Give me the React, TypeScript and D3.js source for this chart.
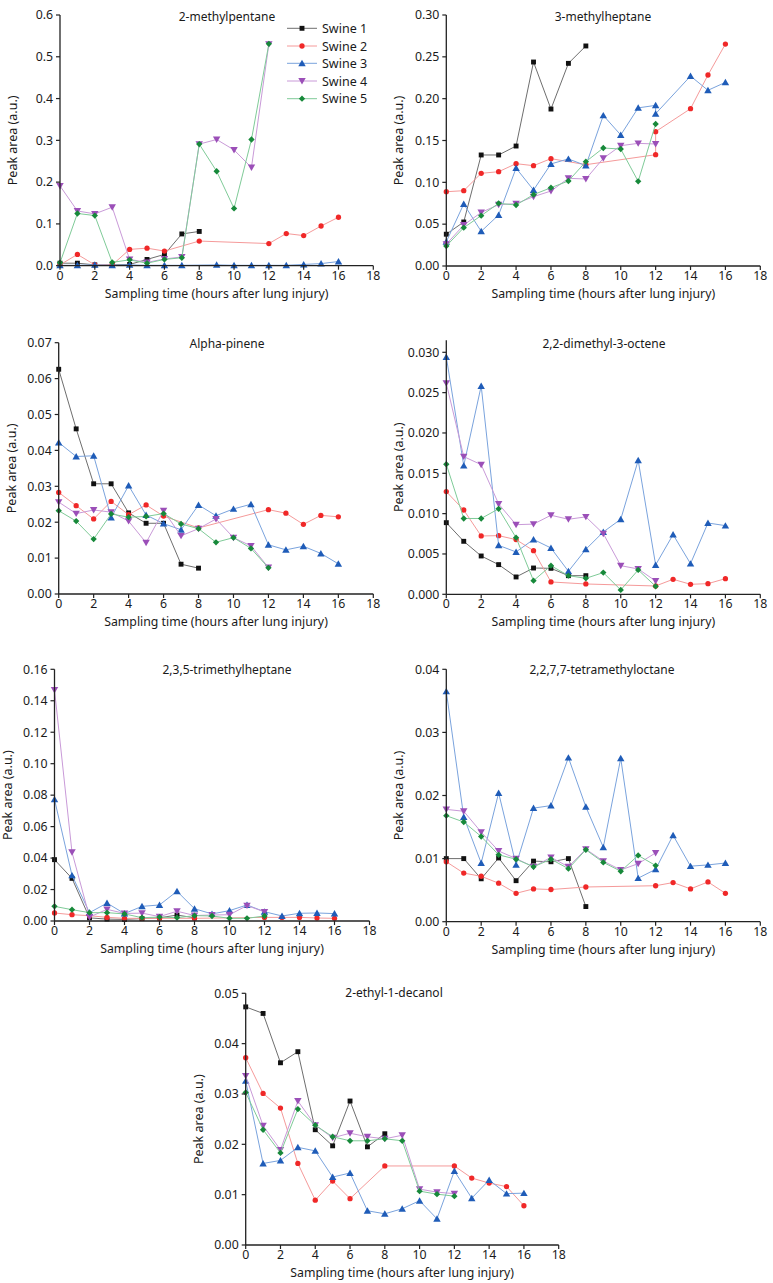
import React from 'react';
import * as d3 from 'd3';

type Pt = [number, number];

const seriesNames = ['Swine 1', 'Swine 2', 'Swine 3', 'Swine 4', 'Swine 5'];
const xTickValues = [0, 2, 4, 6, 8, 10, 12, 14, 16, 18];
const xTitle = 'Sampling time (hours after lung injury)';
const yTitle = 'Peak area (a.u.)';

// Panel 1: 2-methylpentane
const p1s1: Pt[] = [[0,0.006],[1,0.006],[2,0.002],[3,0.002],[4,0.003],[5,0.015],[6,0.027],[7,0.076],[8,0.082]];
const p1s2: Pt[] = [[0,0.002],[1,0.027],[2,0.002],[3,0.002],[4,0.039],[5,0.042],[6,0.035],[8,0.059],[12,0.053],[13,0.077],[14,0.072],[15,0.095],[16,0.116]];
const p1s3: Pt[] = [[0,0.001],[1,0.001],[2,0.002],[3,0.001],[4,0.002],[5,0.001],[6,0.001],[7,0.001],[9,0.002],[10,0.001],[11,0.001],[12,0.001],[13,0.001],[14,0.003],[15,0.005],[16,0.010]];
const p1s4: Pt[] = [[0,0.191],[1,0.131],[2,0.124],[3,0.140],[4,0.015],[5,0.008],[6,0.016],[7,0.021],[8,0.291],[9,0.302],[10,0.277],[11,0.235],[12,0.530]];
const p1s5: Pt[] = [[0,0.007],[1,0.125],[2,0.120],[3,0.008],[4,0.014],[5,0.006],[6,0.015],[7,0.019],[8,0.291],[9,0.226],[10,0.137],[11,0.302],[12,0.531]];

// Panel 2: 3-methylheptane
const p2s1: Pt[] = [[0,0.038],[1,0.0526],[2,0.1327],[3,0.1327],[4,0.1434],[5,0.2438],[6,0.1876],[7,0.2422],[8,0.263]];
const p2s2: Pt[] = [[0,0.0888],[1,0.090],[2,0.1108],[3,0.1127],[4,0.1223],[5,0.1199],[6,0.1283],[8,0.1211],[12,0.133],[12,0.1606],[14,0.188],[15,0.2283],[16,0.2653]];
const p2s3: Pt[] = [[0,0.029],[1,0.0741],[2,0.0414],[3,0.061],[4,0.117],[5,0.0908],[6,0.122],[7,0.128],[8,0.12],[9,0.180],[10,0.1566],[11,0.189],[12,0.192],[12,0.182],[14,0.227],[15,0.210],[16,0.2195]];
const p2s4: Pt[] = [[0,0.026],[1,0.049],[2,0.064],[3,0.0733],[4,0.0745],[5,0.0829],[6,0.0896],[7,0.1048],[8,0.104],[9,0.1287],[10,0.1438],[11,0.1466],[12,0.1458]];
const p2s5: Pt[] = [[0,0.0239],[1,0.0458],[2,0.0602],[3,0.0749],[4,0.0729],[5,0.0853],[6,0.0936],[7,0.1016],[8,0.1247],[9,0.141],[10,0.1398],[11,0.1012],[12,0.1697]];

// Panel 3: Alpha-pinene
const p3s1: Pt[] = [[0,0.0626],[1,0.046],[2,0.0307],[3,0.0307],[4,0.0226],[5,0.0197],[6,0.0197],[7,0.0083],[8,0.0072]];
const p3s2: Pt[] = [[0,0.0283],[1,0.0246],[2,0.0209],[3,0.0258],[4,0.0221],[5,0.0248],[6,0.0217],[8,0.0184],[12,0.0235],[13,0.0225],[14,0.0194],[15,0.0219],[16,0.0215]];
const p3s3: Pt[] = [[0,0.0422],[1,0.0383],[2,0.0385],[3,0.0213],[4,0.0302],[5,0.022],[6,0.0196],[7,0.0179],[8,0.0248],[9,0.0218],[10,0.0237],[11,0.025],[12,0.0137],[13,0.0123],[14,0.0133],[15,0.0113],[16,0.0084]];
const p3s4: Pt[] = [[0,0.0256],[1,0.0224],[2,0.0234],[3,0.0228],[4,0.0203],[5,0.0143],[6,0.0232],[7,0.0162],[8,0.0182],[9,0.0209],[10,0.0157],[11,0.0134],[12,0.0074]];
const p3s5: Pt[] = [[0,0.0232],[1,0.0203],[2,0.0153],[3,0.0223],[4,0.0214],[5,0.0216],[6,0.0224],[7,0.0195],[8,0.0182],[9,0.0144],[10,0.0157],[11,0.0127],[12,0.0073]];

// Panel 4: 2,2-dimethyl-3-octene
const p4s1: Pt[] = [[0,0.00888],[1,0.00657],[2,0.00475],[3,0.00368],[4,0.00215],[5,0.00326],[6,0.00322],[7,0.00231],[8,0.00231]];
const p4s2: Pt[] = [[0,0.01273],[1,0.01045],[2,0.00723],[3,0.00727],[4,0.00678],[5,0.00541],[6,0.00153],[8,0.00128],[12,0.00103],[13,0.00186],[14,0.00124],[15,0.00132],[16,0.00194]];
const p4s3: Pt[] = [[0,0.02942],[1,0.01595],[2,0.02583],[3,0.00607],[4,0.00525],[5,0.0068],[6,0.00574],[7,0.00285],[8,0.00558],[9,0.00773],[10,0.0093],[11,0.01661],[12,0.00364],[13,0.0074],[14,0.0038],[15,0.00884],[16,0.00851]];
const p4s4: Pt[] = [[0,0.02616],[1,0.01707],[2,0.01607],[3,0.0112],[4,0.00863],[5,0.0087],[6,0.0098],[7,0.0093],[8,0.0096],[9,0.00752],[10,0.00355],[11,0.00314],[12,0.00165]];
const p4s5: Pt[] = [[0,0.01612],[1,0.0094],[2,0.0094],[3,0.0106],[4,0.00702],[5,0.00169],[6,0.00355],[7,0.00231],[8,0.00198],[9,0.00269],[10,0.00054],[11,0.00302],[12,0.00099]];

// Panel 5: 2,3,5-trimethylheptane
const p5s1: Pt[] = [[0,0.039],[1,0.0271],[2,0.002],[3,0.0012],[4,0.001],[5,0.0015],[6,0.002],[7,0.0038],[8,0.002]];
const p5s2: Pt[] = [[0,0.0051],[1,0.004],[2,0.0034],[3,0.0023],[4,0.0017],[5,0.0017],[6,0.0017],[8,0.0017],[12,0.0023],[13,0.0023],[14,0.0023],[15,0.0019],[16,0.0017]];
const p5s3: Pt[] = [[0,0.0773],[1,0.029],[2,0.0053],[3,0.0114],[4,0.0047],[5,0.0093],[6,0.0102],[7,0.0189],[8,0.0078],[9,0.0045],[10,0.0066],[11,0.0102],[12,0.0059],[13,0.0032],[14,0.0049],[15,0.0051],[16,0.0047]];
const p5s4: Pt[] = [[0,0.1469],[1,0.0437],[2,0.0025],[3,0.0074],[4,0.0048],[5,0.005],[6,0.0028],[7,0.0062],[8,0.0035],[9,0.0038],[10,0.004],[11,0.0098],[12,0.0058]];
const p5s5: Pt[] = [[0,0.0093],[1,0.0072],[2,0.0053],[3,0.0053],[4,0.0045],[5,0.0021],[6,0.0025],[7,0.0021],[8,0.0034],[9,0.0032],[10,0.0017],[11,0.0017],[12,0.0032]];

// Panel 6: 2,2,7,7-tetramethyloctane
const p6s1: Pt[] = [[0,0.01],[1,0.01],[2,0.0068],[3,0.0101],[4,0.0065],[5,0.0096],[6,0.0095],[7,0.01],[8,0.0024]];
const p6s2: Pt[] = [[0,0.0095],[1,0.0077],[2,0.0072],[3,0.0061],[4,0.0045],[5,0.0052],[6,0.0051],[8,0.0055],[12,0.0057],[13,0.0062],[14,0.0052],[15,0.0063],[16,0.0045]];
const p6s3: Pt[] = [[0,0.0365],[1,0.0166],[2,0.0093],[3,0.0204],[4,0.009],[5,0.018],[6,0.0184],[7,0.026],[8,0.0182],[9,0.0118],[10,0.0259],[11,0.0069],[12,0.0083],[13,0.0137],[14,0.0088],[15,0.009],[16,0.0093]];
const p6s4: Pt[] = [[0,0.0178],[1,0.0175],[2,0.0142],[3,0.0112],[4,0.01],[5,0.0087],[6,0.0102],[7,0.0087],[8,0.0115],[9,0.0096],[10,0.0082],[11,0.0092],[12,0.0109]];
const p6s5: Pt[] = [[0,0.0168],[1,0.0158],[2,0.0135],[3,0.0106],[4,0.0099],[5,0.0087],[6,0.0099],[7,0.0084],[8,0.0114],[9,0.0094],[10,0.008],[11,0.0105],[12,0.0089]];

// Panel 7: 2-ethyl-1-decanol
const p7s1: Pt[] = [[0,0.0473],[1,0.046],[2,0.0362],[3,0.0384],[4,0.0229],[5,0.0197],[6,0.0286],[7,0.0195],[8,0.0221]];
const p7s2: Pt[] = [[0,0.0372],[1,0.0301],[2,0.0272],[3,0.0162],[4,0.0089],[5,0.0127],[6,0.0092],[8,0.0157],[12,0.0157],[13,0.0133],[14,0.0123],[15,0.0116],[16,0.0078]];
const p7s3: Pt[] = [[0,0.0326],[1,0.0162],[2,0.0168],[3,0.0194],[4,0.0187],[5,0.0135],[6,0.0143],[7,0.0068],[8,0.0062],[9,0.0072],[10,0.0088],[11,0.0052],[12,0.0147],[13,0.0093],[14,0.0129],[15,0.0102],[16,0.0103]];
const p7s4: Pt[] = [[0,0.0336],[1,0.0237],[2,0.0189],[3,0.0286],[4,0.0238],[5,0.0213],[6,0.0222],[7,0.0215],[8,0.0211],[9,0.0218],[10,0.0111],[11,0.0105],[12,0.0102]];
const p7s5: Pt[] = [[0,0.0303],[1,0.0229],[2,0.0183],[3,0.027],[4,0.0238],[5,0.0215],[6,0.0207],[7,0.0207],[8,0.0211],[9,0.0207],[10,0.0107],[11,0.0101],[12,0.0097]];

const titles = ['2-methylpentane', '3-methylheptane', 'Alpha-pinene', '2,2-dimethyl-3-octene', '2,3,5-trimethylheptane', '2,2,7,7-tetramethyloctane', '2-ethyl-1-decanol'];
const yMaxes = [0.6, 0.30, 0.07, 0.0315, 0.16, 0.04, 0.05];
const yTickLists = [
  [0, 0.1, 0.2, 0.3, 0.4, 0.5, 0.6],
  [0, 0.05, 0.10, 0.15, 0.20, 0.25, 0.30],
  [0, 0.01, 0.02, 0.03, 0.04, 0.05, 0.06, 0.07],
  [0, 0.005, 0.010, 0.015, 0.020, 0.025, 0.030],
  [0, 0.02, 0.04, 0.06, 0.08, 0.10, 0.12, 0.14, 0.16],
  [0, 0.01, 0.02, 0.03, 0.04],
  [0, 0.01, 0.02, 0.03, 0.04, 0.05],
];
const yFormats = ['.1f', '.2f', '.2f', '.3f', '.2f', '.2f', '.2f'];
const panelData: Pt[][][] = [
  [p1s1, p1s2, p1s3, p1s4, p1s5],
  [p2s1, p2s2, p2s3, p2s4, p2s5],
  [p3s1, p3s2, p3s3, p3s4, p3s5],
  [p4s1, p4s2, p4s3, p4s4, p4s5],
  [p5s1, p5s2, p5s3, p5s4, p5s5],
  [p6s1, p6s2, p6s3, p6s4, p6s5],
  [p7s1, p7s2, p7s3, p7s4, p7s5],
];

// layout (pixels)
const layouts = [
  { left: 60, right: 373.3, top: 15, bottom: 265.7, tx: 227, ty: 17 },
  { left: 446.3, right: 760.3, top: 15, bottom: 266, tx: 603, ty: 17 },
  { left: 58.7, right: 373.3, top: 342.7, bottom: 594, tx: 227, ty: 344 },
  { left: 446.3, right: 760.3, top: 340.2, bottom: 594.3, tx: 604, ty: 344 },
  { left: 54.5, right: 369.5, top: 669.3, bottom: 921, tx: 227, ty: 670 },
  { left: 446.3, right: 760.3, top: 669.3, bottom: 921.7, tx: 602, ty: 670 },
  { left: 245.7, right: 558.7, top: 993.3, bottom: 1245, tx: 394, ty: 993 },
];

const markerColors = ['#111111', '#f02828', '#1f5cb8', '#9b4fb8', '#17893a'];
const lineColors = ['#6e6e6e', '#f59a9a', '#7aa3dd', '#c99ad8', '#7fcb98'];
const symbols = [d3.symbolSquare, d3.symbolCircle, d3.symbolTriangle, d3.symbolTriangle, d3.symbolSquare];
const symbolSizes = [24, 22, 24, 24, 20];
const symbolRot = [0, 0, 0, 180, 45];

const FONT = "'Noto Sans', 'Open Sans', sans-serif";

function Marker({ i, x, y }: { i: number; x: number; y: number }) {
  const path = d3.symbol().type(symbols[i]).size(symbolSizes[i])() || '';
  const dy = i === 2 ? 0.8 : i === 3 ? -0.8 : 0;
  return (
    <path
      d={path}
      transform={`translate(${x},${y + dy}) rotate(${symbolRot[i]})`}
      fill={markerColors[i]}
      stroke="none"
    />
  );
}

function Panel({ idx }: { idx: number }) {
  const L = layouts[idx];
  const x = d3.scaleLinear().domain([0, 18]).range([L.left, L.right]);
  const y = d3.scaleLinear().domain([0, yMaxes[idx]]).range([L.bottom, L.top]);
  const fmt = d3.format(yFormats[idx]);
  const line = d3.line<Pt>().x((d) => x(d[0])).y((d) => y(d[1]));
  const series = panelData[idx];
  const cx = (L.left + L.right) / 2;
  const cy = (L.top + L.bottom) / 2;
  return (
    <g>
      {series.map((s, i) => (
        <g key={i}>
          <path d={line(s) || ''} fill="none" stroke={lineColors[i]} strokeWidth={1} />
          {s.map((d, j) => (
            <Marker key={j} i={i} x={x(d[0])} y={y(d[1])} />
          ))}
        </g>
      ))}
      {/* axes */}
      <line x1={L.left} x2={L.left} y1={L.top} y2={L.bottom} stroke="#222" strokeWidth={1.3} />
      <line x1={L.left} x2={L.right} y1={L.bottom} y2={L.bottom} stroke="#222" strokeWidth={1.3} />
      {xTickValues.map((t) => (
        <g key={t}>
          <line x1={x(t)} x2={x(t)} y1={L.bottom} y2={L.bottom + 4} stroke="#222" strokeWidth={1.2} />
          <text x={x(t)} y={L.bottom + 14} textAnchor="middle" fontSize={12.3} fill="#1a1a1a" fontFamily={FONT}>
            {t}
          </text>
        </g>
      ))}
      {yTickLists[idx].map((t) => (
        <g key={t}>
          <line x1={L.left - 4} x2={L.left} y1={y(t)} y2={y(t)} stroke="#222" strokeWidth={1.2} />
          <text x={L.left - 7} y={y(t) + 4.3} textAnchor="end" fontSize={12.3} fill="#1a1a1a" fontFamily={FONT}>
            {fmt(t)}
          </text>
        </g>
      ))}
      <text x={L.tx} y={L.ty + 4} textAnchor="middle" fontSize={12} fill="#1a1a1a" fontFamily={FONT}>
        {titles[idx]}
      </text>
      <text x={cx} y={L.bottom + 32} textAnchor="middle" fontSize={12.3} fill="#1a1a1a" fontFamily={FONT}>
        {xTitle}
      </text>
      <text
        transform={`translate(${L.left - 43},${cy}) rotate(-90)`}
        textAnchor="middle"
        fontSize={12.5}
        fill="#1a1a1a"
        fontFamily={FONT}
      >
        {yTitle}
      </text>
    </g>
  );
}

function Legend() {
  const x0 = 287;
  const x1 = 317;
  const ys = [28.3, 46, 63.3, 81, 98.7];
  return (
    <g>
      {seriesNames.map((n, i) => (
        <g key={n}>
          <line x1={x0} x2={x1} y1={ys[i]} y2={ys[i]} stroke={lineColors[i]} strokeWidth={1} />
          <Marker i={i} x={(x0 + x1) / 2} y={ys[i]} />
          <text x={322} y={ys[i] + 4.5} fontSize={12.5} fill="#1a1a1a" fontFamily={FONT}>
            {n}
          </text>
        </g>
      ))}
    </g>
  );
}

export default function App() {
  return (
    <svg
      width={773}
      height={1283}
      viewBox="0 0 773 1283"
      style={{ position: 'absolute', left: 0, top: 0, background: '#fff' }}
    >
      <rect x={0} y={0} width={773} height={1283} fill="#fff" />
      {titles.map((_, i) => (
        <Panel key={i} idx={i} />
      ))}
      <Legend />
    </svg>
  );
}
